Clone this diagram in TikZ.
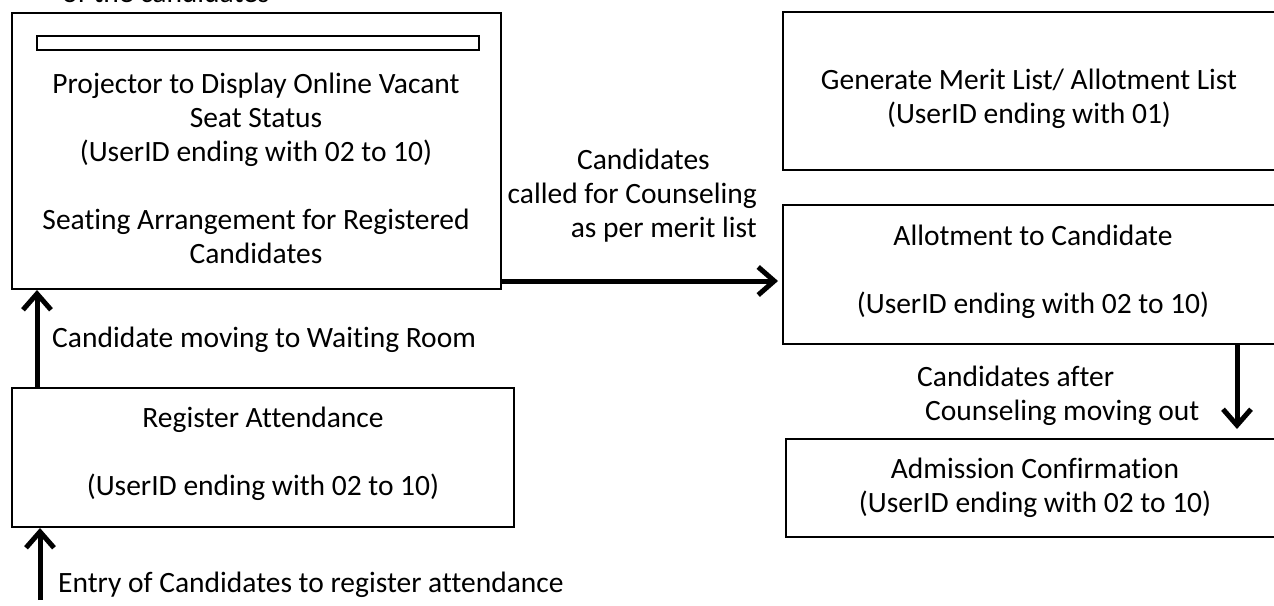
\documentclass[tikz,border=0pt]{standalone}
\usepackage{fontspec}
\setmainfont{Carlito}[Ligatures=NoCommon]
\usetikzlibrary{arrows.meta}

\tikzset{
    stagebox/.style={draw, line width=2pt, inner sep=0pt},
    boxtext/.style={align=center, font=\fontsize{29.5}{34}\selectfont},
    flowlabel/.style={font=\fontsize{29.5}{34}\selectfont, inner sep=0pt},
    flow/.style={line width=5pt, -{Straight Barb[length=16pt, width=28pt]}}
}

\begin{document}
\begin{tikzpicture}[x=1pt, y=-1pt]
    \useasboundingbox (0,0) rectangle (1274,605);

    % LEFT: waiting room and registration
    \node[flowlabel, anchor=base west] (toptxt) at (62,2) {of the candidates};

    \node[stagebox, minimum width=489, minimum height=276] (proj) at (256.5,151) {};
    \node[stagebox, line width=1.5pt, minimum width=442, minimum height=14] (screen) at (258,43) {};
    \node[boxtext] (projtxt) at (256,168) {
        Projector to Display Online Vacant\\Seat Status\\(UserID ending with 02 to 10)\\[34pt]
        Seating Arrangement for Registered\\Candidates
    };

    \node[stagebox, minimum width=502, minimum height=139] (reg) at (263,457.5) {};
    \node[boxtext] (regtxt) at (263,454) {Register Attendance\\[34pt](UserID ending with 02 to 10)};

    % arrows on the left side
    \coordinate (waitx) at (37,0);
    \coordinate (entry) at (40,600);
    \draw[flow] (reg.north -| waitx) -- (proj.south -| waitx);
    \node[flowlabel, anchor=west] (waitlbl) at (52,340) {Candidate moving to Waiting Room};
    \draw[flow] (entry) -- (entry |- reg.south);
    \node[flowlabel, anchor=west] (entrylbl) at (58,585) {Entry of Candidates to register attendance};

    % RIGHT: merit list, allotment, admission
    \node[stagebox, minimum width=500, minimum height=158] (merit) at (1033,91) {};
    \node[boxtext] (merittxt) at (1029,99) {Generate Merit List/ Allotment List\\(UserID ending with 01)};

    \node[stagebox, minimum width=500, minimum height=139] (allot) at (1033,274.5) {};
    \node[boxtext] (allottxt) at (1033,272) {Allotment to Candidate\\[34pt](UserID ending with 02 to 10)};

    \node[stagebox, minimum width=497, minimum height=98] (admit) at (1034.5,488) {};
    \node[boxtext] (admittxt) at (1035,488) {Admission Confirmation\\(UserID ending with 02 to 10)};

    % counseling call
    \coordinate (cally) at (0,281);
    \draw[flow, shorten >=4pt] (proj.east |- cally) -- (allot.west |- cally);
    \node[flowlabel, align=right, anchor=east] (calllbl) at (757,196) {
        Candidates\hspace*{47pt}\\called for Counseling\\as per merit list
    };

    % moving out after counseling
    \coordinate (outx) at (1237,0);
    \draw[flow, shorten >=9pt] (allot.south -| outx) -- (admit.north -| outx);
    \node[flowlabel, align=left, anchor=west] (outlbl) at (917,396) {
        Candidates after\\\hspace*{8pt}Counseling moving out
    };
\end{tikzpicture}
\end{document}
